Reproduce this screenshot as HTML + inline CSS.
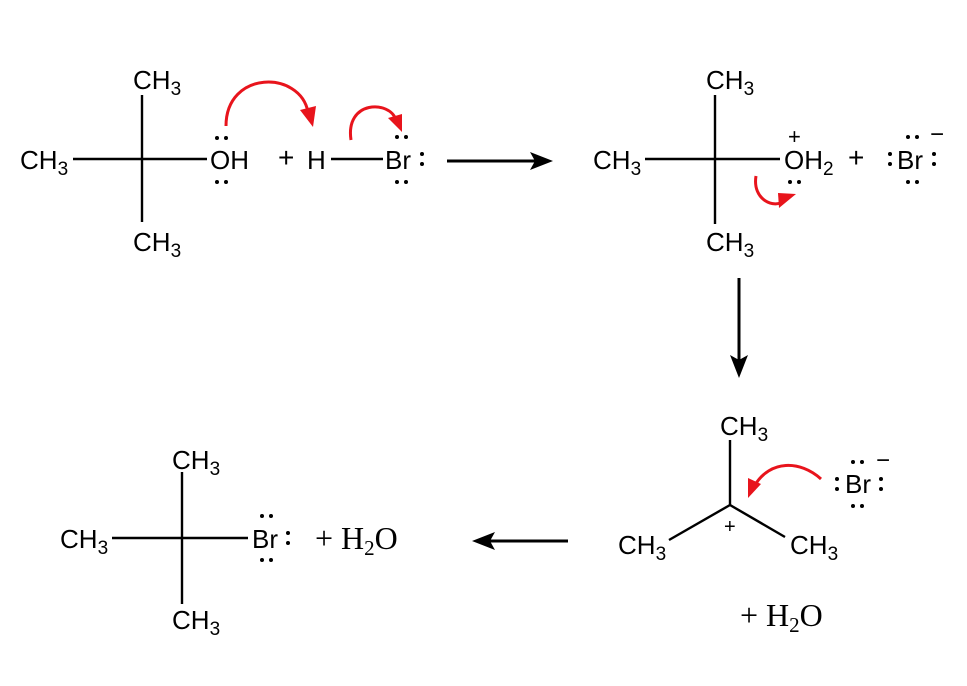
<!DOCTYPE html>
<html><head><meta charset="utf-8"><style>
html,body{margin:0;padding:0;background:#fff;}
svg{display:block;}
text{font-family:"Liberation Sans",sans-serif;font-size:26px;fill:#000;}
.s{font-size:19px;}
.serif{font-family:"Liberation Serif",serif;font-size:32px;}
</style></head><body>
<svg width="967" height="686" viewBox="0 0 967 686" xmlns="http://www.w3.org/2000/svg">
<g stroke="#000" stroke-width="2.4" fill="none">
<line x1="142" y1="95" x2="142" y2="222"/>
<line x1="73" y1="159" x2="207" y2="159"/>
<line x1="331" y1="159" x2="383" y2="159"/>
<line x1="715" y1="95" x2="715" y2="224"/>
<line x1="645" y1="159" x2="780" y2="159"/>
<line x1="730" y1="440" x2="730" y2="505"/>
<line x1="730" y1="505" x2="669" y2="540"/>
<line x1="730" y1="505" x2="785" y2="537"/>
<line x1="182" y1="472" x2="182" y2="604"/>
<line x1="112" y1="538" x2="248" y2="538"/>
</g>
<line x1="447" y1="161" x2="535" y2="161" stroke="#000" stroke-width="3"/>
<path d="M553,161 L530,152 L535,161 L530,170 Z" fill="#000"/>
<line x1="739" y1="278" x2="739" y2="360" stroke="#000" stroke-width="3"/>
<path d="M739,378 L730,355 L739,360 L748,355 Z" fill="#000"/>
<line x1="568" y1="541" x2="490" y2="541" stroke="#000" stroke-width="3"/>
<path d="M472,541 L495,532 L490,541 L495,550 Z" fill="#000"/>
<g fill="none" stroke="#e8141c" stroke-width="3">
<path d="M226,126 C226,70 300,70 308,112"/>
<path d="M351,140 C345,100 390,100 396,120"/>
<path d="M756,176 C752,200 775,210 785,200"/>
<path d="M821,479 C800,460 770,460 755,485"/>
</g>
<g fill="#e8141c">
<path d="M313,127 L300,110 L316,106 Z"/>
<path d="M402,132 L388,118 L402,114 Z"/>
<path d="M796,194 L779,208 L778,193 Z"/>
<path d="M748,498 L748,478 L761,484 Z"/>
</g>
<text x="20" y="169">CH<tspan class="s" dy="6">3</tspan></text>
<text x="133" y="89">CH<tspan class="s" dy="6">3</tspan></text>
<text x="133" y="251">CH<tspan class="s" dy="6">3</tspan></text>
<text x="210" y="169">OH</text>
<text x="278" y="167" style="font-size:28px">+</text>
<text x="307" y="169">H</text>
<text x="385" y="169">Br</text>
<g fill="#000">
<circle cx="217" cy="138" r="2"/><circle cx="226" cy="138" r="2"/>
<circle cx="217" cy="182" r="2"/><circle cx="226" cy="182" r="2"/>
<circle cx="397" cy="137" r="2"/><circle cx="406" cy="137" r="2"/>
<circle cx="397" cy="182" r="2"/><circle cx="406" cy="182" r="2"/>
<circle cx="422" cy="154" r="2"/><circle cx="422" cy="164" r="2"/>
</g>
<text x="593" y="169">CH<tspan class="s" dy="6">3</tspan></text>
<text x="706" y="89">CH<tspan class="s" dy="6">3</tspan></text>
<text x="706" y="251">CH<tspan class="s" dy="6">3</tspan></text>
<text x="784" y="169">OH<tspan class="s" dy="6">2</tspan></text>
<text x="788" y="144" style="font-size:22px">+</text>
<text x="848" y="167" style="font-size:28px">+</text>
<text x="897" y="169">Br</text>
<text x="930" y="142" style="font-size:24px">−</text>
<g fill="#000">
<circle cx="790" cy="182" r="2"/><circle cx="799" cy="182" r="2"/>
<circle cx="908" cy="137" r="2"/><circle cx="917" cy="137" r="2"/>
<circle cx="908" cy="182" r="2"/><circle cx="917" cy="182" r="2"/>
<circle cx="890" cy="154" r="2"/><circle cx="890" cy="164" r="2"/>
<circle cx="934" cy="154" r="2"/><circle cx="934" cy="164" r="2"/>
</g>
<text x="720" y="435">CH<tspan class="s" dy="6">3</tspan></text>
<text x="618" y="554">CH<tspan class="s" dy="6">3</tspan></text>
<text x="790" y="554">CH<tspan class="s" dy="6">3</tspan></text>
<text x="724" y="533" style="font-size:20px">+</text>
<text x="845" y="493">Br</text>
<text x="876" y="468" style="font-size:24px">−</text>
<g fill="#000">
<circle cx="853" cy="462" r="2"/><circle cx="862" cy="462" r="2"/>
<circle cx="853" cy="506" r="2"/><circle cx="862" cy="506" r="2"/>
<circle cx="837" cy="479" r="2"/><circle cx="837" cy="489" r="2"/>
<circle cx="881" cy="479" r="2"/><circle cx="881" cy="489" r="2"/>
</g>
<text class="serif" x="740" y="626">+ H<tspan style="font-size:21px" dy="6">2</tspan><tspan dy="-6">O</tspan></text>
<text x="60" y="548">CH<tspan class="s" dy="6">3</tspan></text>
<text x="172" y="469">CH<tspan class="s" dy="6">3</tspan></text>
<text x="172" y="629">CH<tspan class="s" dy="6">3</tspan></text>
<text x="252" y="548">Br</text>
<g fill="#000">
<circle cx="262" cy="516" r="2"/><circle cx="271" cy="516" r="2"/>
<circle cx="262" cy="560" r="2"/><circle cx="271" cy="560" r="2"/>
<circle cx="288" cy="533" r="2"/><circle cx="288" cy="543" r="2"/>
</g>
<text class="serif" x="315" y="549">+ H<tspan style="font-size:21px" dy="6">2</tspan><tspan dy="-6">O</tspan></text>
</svg>
</body></html>
